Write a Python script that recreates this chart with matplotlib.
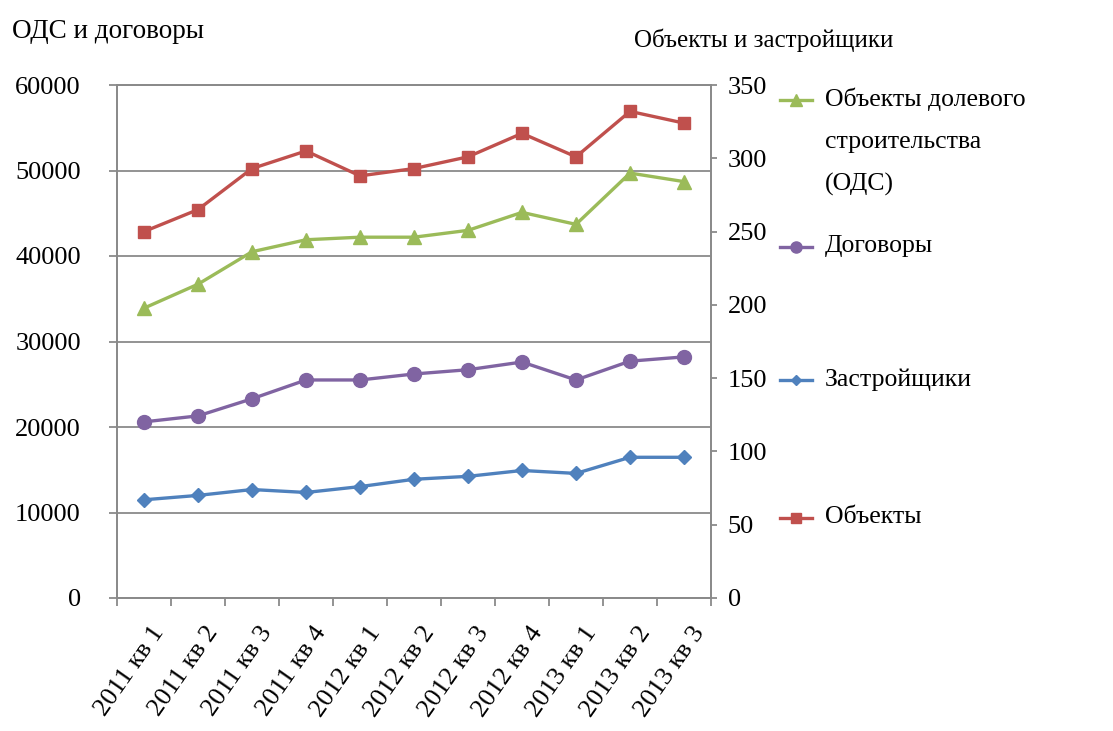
import matplotlib
matplotlib.use('Agg')
from matplotlib import pyplot as plt
from matplotlib.lines import Line2D
from matplotlib.transforms import ScaledTranslation

plt.rcParams['font.family'] = ['Liberation Serif', 'DejaVu Serif']

# data
quarters = ['2011 кв 1', '2011 кв 2', '2011 кв 3', '2011 кв 4',
            '2012 кв 1', '2012 кв 2', '2012 кв 3', '2012 кв 4',
            '2013 кв 1', '2013 кв 2', '2013 кв 3']
ods = [33900, 36700, 40500, 41900, 42200, 42200, 43000, 45100, 43700, 49700, 48700]
contracts = [20600, 21300, 23300, 25500, 25500, 26200, 26700, 27600, 25500, 27700, 28200]
objects = [250, 265, 293, 305, 288, 293, 301, 317, 301, 332, 324]
developers = [67, 70, 74, 72, 76, 81, 83, 87, 85, 96, 96]

left_ticks = [0, 10000, 20000, 30000, 40000, 50000, 60000]
right_ticks = [0, 50, 100, 150, 200, 250, 300, 350]

GREEN = '#9BBB59'
PURPLE = '#8064A2'
BLUE = '#4F81BD'
RED = '#C0504D'
GRAY = '#8a8a8a'

fig = plt.figure(figsize=(11.13, 7.31), dpi=100)
W, H = 1113, 731
ax = fig.add_axes([117 / W, (H - 598) / H, (711 - 117) / W, (598 - 85) / H])
ax2 = ax.twinx()

x = list(range(len(quarters)))
lw = 2.4
ax.plot(x, ods, color=GREEN, lw=lw, marker='^', ms=10, zorder=3)
ax.plot(x, contracts, color=PURPLE, lw=lw, marker='o', ms=10, zorder=3)
ax2.plot(x, developers, color=BLUE, lw=lw, marker='D', ms=7, zorder=3)
ax2.plot(x, objects, color=RED, lw=lw, marker='s', ms=9, zorder=3)

ax.set_xlim(-0.5, len(quarters) - 0.5)
ax.set_ylim(0, 60000)
ax2.set_ylim(0, 350)
ax.set_yticks(left_ticks)
ax2.set_yticks(right_ticks)
ax.grid(axis='y', color=GRAY, lw=1.3)
ax.set_axisbelow(True)

for a in (ax, ax2):
    for s in a.spines.values():
        s.set_color(GRAY)
        s.set_linewidth(1.3)

ax.set_xticks(x)
ax.set_xticks([i - 0.5 for i in range(len(quarters) + 1)], minor=True)
ax.tick_params(axis='x', which='major', length=0, pad=22)
ax.tick_params(axis='x', which='minor', length=6, color=GRAY, width=1.3)
ax.tick_params(axis='y', length=6, color=GRAY, width=1.3, labelsize=19, pad=20)
ax2.tick_params(axis='y', length=4, color=GRAY, width=1.3, labelsize=19, pad=8)
ax.set_xticklabels(quarters, rotation=55, ha='right', va='center',
                   rotation_mode='anchor', fontsize=19)
# push the slanted labels a bit to the right, as in the original
shift = ScaledTranslation(16 / 100, 0, fig.dpi_scale_trans)
for lbl in ax.xaxis.get_majorticklabels():
    lbl.set_transform(lbl.get_transform() + shift)

fig.text(12 / W, 1 - 32 / H, 'ОДС и договоры', fontsize=19.5, va='center', ha='left')
fig.text(764 / W, 1 - 40 / H, 'Объекты и застройщики', fontsize=18, va='center', ha='center')

# legend, laid out like the Excel one
entries = [
    (ax.lines[0], 'Объекты долевого\nстроительства\n(ОДС)', 100),
    (ax.lines[1], 'Договоры', 247),
    (ax2.lines[0], 'Застройщики', 380),
    (ax2.lines[1], 'Объекты', 518),
]
for line, label, ypx in entries:
    yf = 1 - ypx / H
    fig.add_artist(Line2D([780 / W, 812 / W], [yf, yf], transform=fig.transFigure,
                          color=line.get_color(), lw=lw))
    fig.add_artist(Line2D([796 / W], [yf], transform=fig.transFigure,
                          color=line.get_color(), marker=line.get_marker(),
                          ms=line.get_markersize() * 0.8, lw=0))
    fig.text(825 / W, yf + 12 / H, label, fontsize=18.5, va='top', ha='left',
             linespacing=2.15)

fig.savefig('out.png', dpi=100)
